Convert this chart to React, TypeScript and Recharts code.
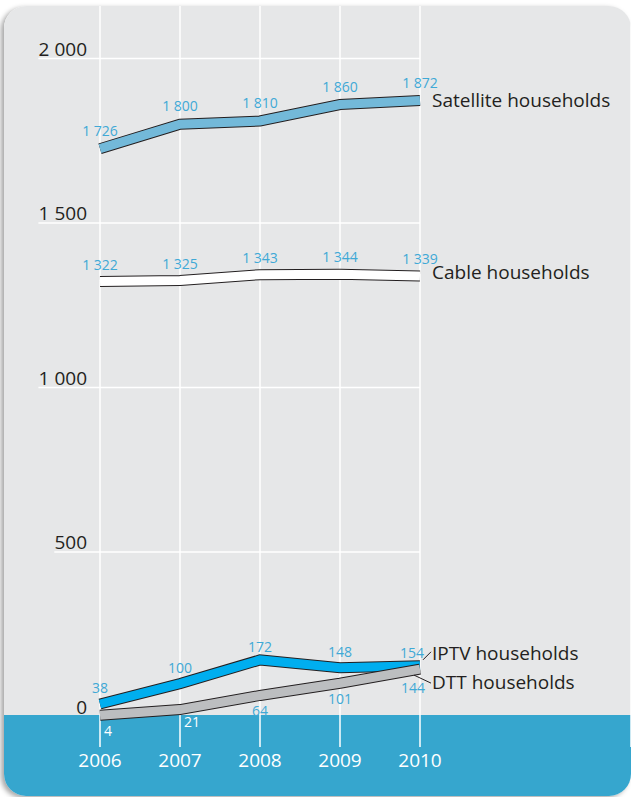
import React from 'react';
import { LineChart, Line, XAxis, YAxis, CartesianGrid, LabelList } from 'recharts';

const years = [2006, 2007, 2008, 2009, 2010];
const satellite = [1726, 1800, 1810, 1860, 1872];
const cable = [1322, 1325, 1343, 1344, 1339];
const iptv = [38, 100, 172, 148, 154];
const dtt = [4, 21, 64, 101, 144];
const yTicks = [0, 500, 1000, 1500, 2000];
const seriesNames = {
  satellite: 'Satellite households',
  cable: 'Cable households',
  iptv: 'IPTV households',
  dtt: 'DTT households',
};

const data = years.map((year, i) => ({
  year,
  satellite: satellite[i],
  cable: cable[i],
  iptv: iptv[i],
  dtt: dtt[i],
}));

const FONT = '"Open Sans", "Noto Sans", sans-serif';
const TEXT = '#231f20';
const LABEL_BLUE = '#3fa9d6';
const OUTLINE = '#231f20';
const BAND_TOP = 715;

const fmt = (v: number) => String(v).replace(/\B(?=(\d{3})+(?!\d))/g, ' ');

const YTick = (props: any) => {
  const { y, payload } = props;
  const label = fmt(payload.value);
  const digits = label.replace(/ /g, '').length;
  const spaces = label.length - digits;
  const w = digits * 10.9 + spaces * 5;
  return (
    <g>
      {payload.value !== 0 && (
        <line x1={87 - w} x2={420} y1={y} y2={y} stroke="#ffffff" strokeWidth={1.5} />
      )}
      <text x={87} y={y - 3} textAnchor="end" fontFamily={FONT} fontSize={19} fill={TEXT}>
        {label}
      </text>
    </g>
  );
};

const XTick = (props: any) => {
  const { x, payload } = props;
  return (
    <text x={x} y={767} textAnchor="middle" fontFamily={FONT} fontSize={19} fill="#ffffff">
      {payload.value}
    </text>
  );
};

const makeLabel = (opts: {
  name: string;
  dy: number;
  nameDy: number;
  adjust?: Record<number, [number, number]>;
  leader?: [number, number, number, number];
}) => (props: any) => {
  const { x, y, value, index } = props;
  const adj = (opts.adjust && opts.adjust[index]) || [0, 0];
  const cx = x + adj[0];
  const cy = y + opts.dy + adj[1];
  const fill = cy > BAND_TOP ? '#ffffff' : LABEL_BLUE;
  return (
    <g>
      <text x={cx} y={cy + 5} textAnchor="middle" fontFamily={FONT} fontSize={14} fill={fill}>
        {fmt(value)}
      </text>
      {index === years.length - 1 && (
        <g>
          {opts.leader && (
            <line
              x1={x + opts.leader[0]}
              y1={y + opts.leader[1]}
              x2={x + opts.leader[2]}
              y2={y + opts.leader[3]}
              stroke={TEXT}
              strokeWidth={1}
            />
          )}
          <text
            x={x + 12}
            y={y + opts.nameDy + 6}
            textAnchor="start"
            fontFamily={FONT}
            fontSize={19}
            fill={TEXT}
          >
            {opts.name}
          </text>
        </g>
      )}
    </g>
  );
};

const SatLabel = makeLabel({ name: seriesNames.satellite, dy: -18, nameDy: 0 });
const CableLabel = makeLabel({ name: seriesNames.cable, dy: -17, nameDy: -3 });
const IptvLabel = makeLabel({
  name: seriesNames.iptv,
  dy: -16,
  nameDy: -12,
  adjust: { 2: [0, 3], 4: [-8, 3] },
  leader: [3, -6, 11, -14],
});
const DttLabel = makeLabel({
  name: seriesNames.dtt,
  dy: 16,
  nameDy: 14,
  adjust: { 0: [8, 0], 1: [12, -4], 4: [-7, 3] },
  leader: [-6, 6, 11, 14],
});

const series = [
  { key: 'satellite', color: '#73b9d9', label: SatLabel },
  { key: 'cable', color: '#ffffff', label: CableLabel },
  { key: 'iptv', color: '#00aeef', label: IptvLabel },
  { key: 'dtt', color: '#bcbec0', label: DttLabel },
];

const Y_MAX = 716.5 / 0.329;
const Y_MIN = -(747 - 716.5) / 0.329;

export default function App() {
  return (
    <div
      style={{
        position: 'absolute',
        left: 0,
        top: 0,
        width: 631,
        height: 797,
        overflow: 'hidden',
        background: '#ffffff',
      }}
    >
      <div
        style={{
          position: 'absolute',
          left: 4,
          top: 6,
          width: 627,
          height: 790,
          borderRadius: 22,
          overflow: 'hidden',
          background:
            'linear-gradient(to bottom, #e6e7e8 0px, #e6e7e8 709px, #36a6ce 709px, #36a6ce 100%)',
          boxShadow: '-3px 2px 5px rgba(0,0,0,0.35)',
        }}
      >
        <div style={{ position: 'absolute', left: -4, top: -6 }}>
          <LineChart
            width={631}
            height={797}
            data={data}
            margin={{ top: 0, right: 0, bottom: 0, left: 0 }}
          >
            <CartesianGrid horizontal={false} vertical stroke="#ffffff" strokeWidth={1.5} />
            <XAxis
              dataKey="year"
              type="number"
              domain={[2004.7625, 2012.6375]}
              ticks={years}
              allowDataOverflow
              height={50}
              axisLine={false}
              tickLine={false}
              tick={<XTick />}
              interval={0}
            />
            <YAxis
              type="number"
              domain={[Y_MIN, Y_MAX]}
              ticks={yTicks}
              allowDataOverflow
              width={1}
              axisLine={false}
              tickLine={false}
              tick={<YTick />}
              interval={0}
            />
            {series.flatMap((s) => [
              <Line
                key={s.key + '-outline'}
                type="linear"
                dataKey={s.key}
                stroke={OUTLINE}
                strokeWidth={11}
                dot={false}
                activeDot={false}
                isAnimationActive={false}
              />,
              <Line
                key={s.key + '-fill'}
                type="linear"
                dataKey={s.key}
                stroke={s.color}
                strokeWidth={9}
                dot={false}
                activeDot={false}
                isAnimationActive={false}
              >
                <LabelList dataKey={s.key} content={s.label} />
              </Line>,
            ])}
          </LineChart>
        </div>
      </div>
    </div>
  );
}
